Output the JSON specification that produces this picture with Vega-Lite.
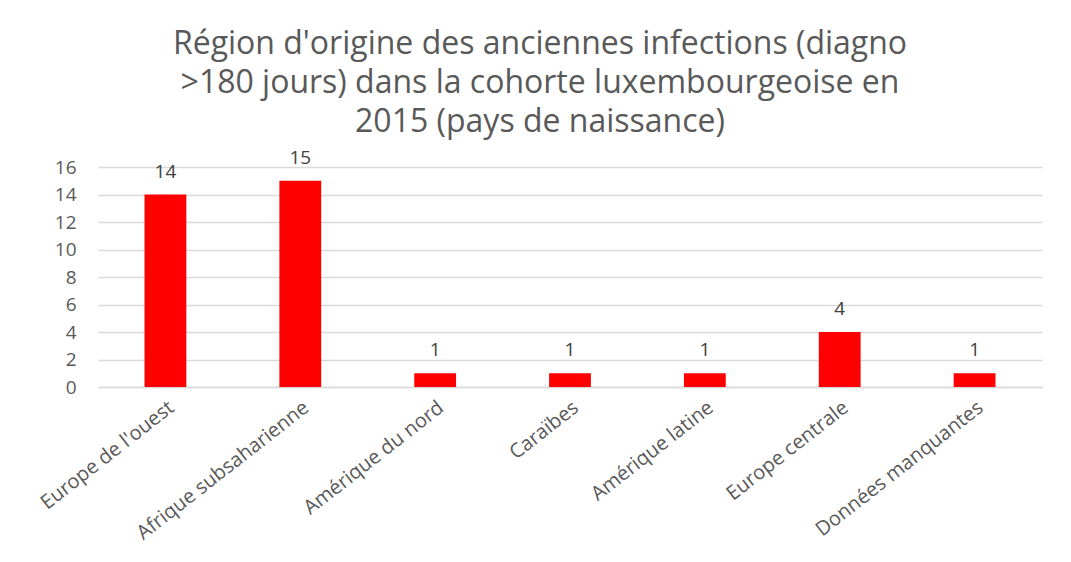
{
  "$schema": "https://vega.github.io/schema/vega-lite/v6.json",
  "width": 944,
  "height": 220,
  "autosize": {"type": "none"},
  "padding": {"left": 98, "top": 167, "right": 29, "bottom": 175},
  "background": "white",
  "title": {
    "text": ["Région d'origine des anciennes infections (diagno", ">180 jours) dans la cohorte luxembourgeoise en", "2015 (pays de naissance)"],
    "fontSize": 32,
    "font": "Open Sans",
    "fontWeight": "normal",
    "color": "#595959",
    "lineHeight": 39,
    "anchor": "middle",
    "dx": -30,
    "offset": 10
  },
  "data": {
    "values": [
      {"region": "Europe de l'ouest", "n": 14},
      {"region": "Afrique subsaharienne", "n": 15},
      {"region": "Amérique du nord", "n": 1},
      {"region": "Caraïbes", "n": 1},
      {"region": "Amérique latine", "n": 1},
      {"region": "Europe centrale", "n": 4},
      {"region": "Données manquantes", "n": 1}
    ]
  },
  "encoding": {
    "x": {
      "field": "region",
      "type": "nominal",
      "sort": null,
      "title": null,
      "scale": {"paddingInner": 0.69, "paddingOuter": 0.345},
      "axis": {
        "labelAngle": -38,
        "labelFontSize": 20,
        "labelFont": "Open Sans",
        "labelColor": "#595959",
        "ticks": false,
        "domainColor": "#d9d9d9",
        "domainWidth": 1.5,
        "labelPadding": 10,
        "labelLimit": 300
      }
    },
    "y": {
      "field": "n",
      "type": "quantitative",
      "title": null,
      "scale": {"domain": [0, 16]},
      "axis": {
        "values": [0, 2, 4, 6, 8, 10, 12, 14, 16],
        "labelFontSize": 19,
        "labelFont": "Open Sans",
        "labelColor": "#595959",
        "ticks": false,
        "domain": false,
        "gridColor": "#d9d9d9",
        "gridWidth": 1.3,
        "labelPadding": 22
      }
    }
  },
  "layer": [
    {"mark": {"type": "bar", "color": "#ff0000"}},
    {
      "mark": {"type": "text", "dy": -23, "fontSize": 19, "font": "Open Sans", "color": "#404040"},
      "encoding": {"text": {"field": "n", "type": "quantitative"}}
    }
  ],
  "config": {"view": {"stroke": null}}
}
